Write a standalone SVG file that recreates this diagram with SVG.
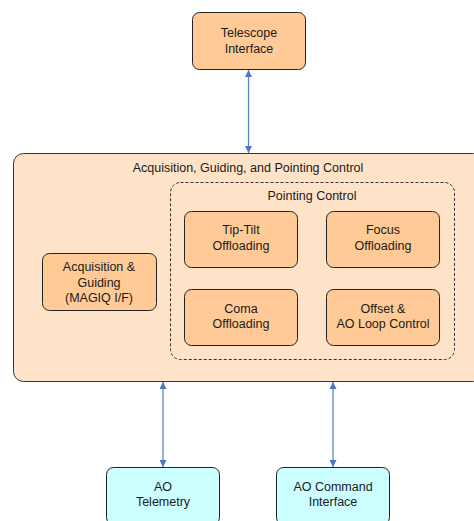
<svg xmlns="http://www.w3.org/2000/svg" width="474" height="521" viewBox="0 0 474 521">
<style>
text{font-family:"Liberation Sans",Arial,sans-serif;font-size:12.5px;fill:#1a1a1a;text-anchor:middle}
.n{fill:#ffca96;stroke:#222;stroke-width:1}
.c{fill:#ccffff;stroke:#222;stroke-width:1}
.o{fill:#fee3c9;stroke:#333;stroke-width:1}
.d{fill:none;stroke:#333;stroke-width:1;stroke-dasharray:3,2}
.a{stroke:#5a86d0;stroke-width:1.3;fill:none;marker-start:url(#m);marker-end:url(#m)}
</style>
<defs>
<marker id="m" viewBox="0 0 10 10" refX="10" refY="5" markerWidth="8" markerHeight="7" orient="auto-start-reverse" markerUnits="userSpaceOnUse">
<path d="M0,0 L10,5 L0,10 z" fill="#4a76c4"/>
</marker>
</defs>
<rect width="474" height="521" fill="#fff"/>
<g id="agp">
<rect class="o" x="13.5" y="153.5" width="470" height="228" rx="10"/>
<text x="248" y="172">Acquisition, Guiding, and Pointing Control</text>
</g>
<g id="pointing">
<rect class="d" x="170.5" y="182.5" width="284" height="177" rx="10"/>
<text x="312" y="200">Pointing Control</text>
</g>
<g id="telescope">
<rect class="n" x="192.5" y="12.5" width="113" height="57" rx="7"/>
<text x="249" y="37">Telescope</text>
<text x="249" y="53">Interface</text>
</g>
<g id="acq">
<rect class="n" x="42.5" y="253.5" width="114" height="57" rx="7"/>
<text x="99" y="271">Acquisition &amp;</text>
<text x="99" y="286.5">Guiding</text>
<text x="99" y="301.5">(MAGIQ I/F)</text>
</g>
<g id="tiptilt">
<rect class="n" x="184.5" y="211.5" width="113" height="56" rx="7"/>
<text x="241" y="234">Tip-Tilt</text>
<text x="241" y="250">Offloading</text>
</g>
<g id="focus">
<rect class="n" x="326.5" y="211.5" width="113" height="56" rx="7"/>
<text x="383" y="234">Focus</text>
<text x="383" y="250">Offloading</text>
</g>
<g id="coma">
<rect class="n" x="184.5" y="289.5" width="113" height="56" rx="7"/>
<text x="241" y="313">Coma</text>
<text x="241" y="328">Offloading</text>
</g>
<g id="offset">
<rect class="n" x="326.5" y="289.5" width="113" height="56" rx="7"/>
<text x="383" y="313">Offset &amp;</text>
<text x="383" y="328">AO Loop Control</text>
</g>
<g id="telemetry">
<rect class="c" x="106.5" y="467.5" width="113" height="57" rx="7"/>
<text x="163" y="491">AO</text>
<text x="163" y="506">Telemetry</text>
</g>
<g id="aocmd">
<rect class="c" x="276.5" y="467.5" width="113" height="57" rx="7"/>
<text x="333" y="491">AO Command</text>
<text x="333" y="506">Interface</text>
</g>
<g id="connectors">
<line class="a" x1="248.5" y1="70" x2="248.5" y2="153"/>
<line class="a" x1="163" y1="382" x2="163" y2="467"/>
<line class="a" x1="333" y1="382" x2="333" y2="467"/>
</g>
</svg>
